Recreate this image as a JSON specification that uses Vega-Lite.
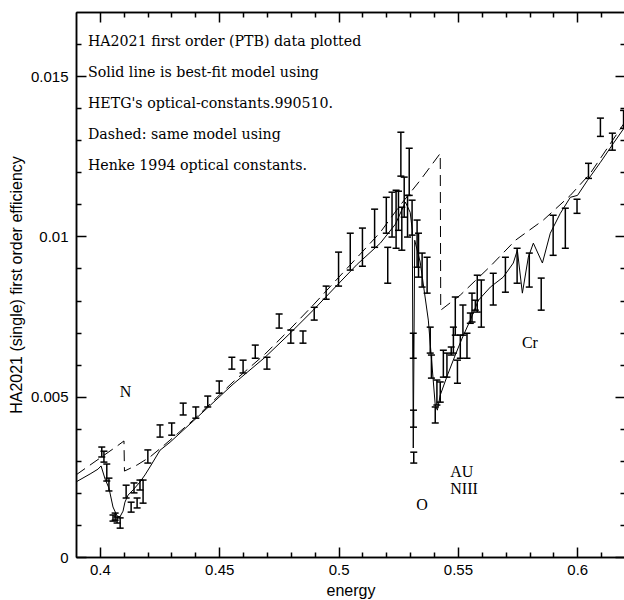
{
  "$schema": "https://vega.github.io/schema/vega-lite/v6.json",
  "autosize": {"type": "none"},
  "padding": {"left": 76, "top": 12, "right": 0, "bottom": 43},
  "width": 549,
  "height": 545,
  "data": {"values": [
    {"e": 0.4008, "lo": 0.00312, "hi": 0.00343}, {"e": 0.4017, "lo": 0.00296, "hi": 0.0033},
    {"e": 0.4029, "lo": 0.00237, "hi": 0.0029}, {"e": 0.4038, "lo": 0.00206, "hi": 0.00246},
    {"e": 0.4055, "lo": 0.00112, "hi": 0.00131}, {"e": 0.4064, "lo": 0.00115, "hi": 0.00137},
    {"e": 0.4072, "lo": 0.00106, "hi": 0.00125}, {"e": 0.4085, "lo": 0.0009, "hi": 0.00122},
    {"e": 0.411, "lo": 0.00184, "hi": 0.00224}, {"e": 0.4131, "lo": 0.0014, "hi": 0.00171},
    {"e": 0.4143, "lo": 0.002, "hi": 0.00231}, {"e": 0.4156, "lo": 0.00153, "hi": 0.00184},
    {"e": 0.4168, "lo": 0.00209, "hi": 0.0024}, {"e": 0.4181, "lo": 0.00168, "hi": 0.0024},
    {"e": 0.4201, "lo": 0.00293, "hi": 0.00334}, {"e": 0.4252, "lo": 0.00374, "hi": 0.00412},
    {"e": 0.4301, "lo": 0.0038, "hi": 0.00418}, {"e": 0.4349, "lo": 0.00443, "hi": 0.0048},
    {"e": 0.4402, "lo": 0.00433, "hi": 0.00468}, {"e": 0.4452, "lo": 0.00468, "hi": 0.00502},
    {"e": 0.45, "lo": 0.00511, "hi": 0.00549}, {"e": 0.4553, "lo": 0.00586, "hi": 0.00623},
    {"e": 0.46, "lo": 0.00574, "hi": 0.00614}, {"e": 0.4651, "lo": 0.0062, "hi": 0.00661},
    {"e": 0.47, "lo": 0.00586, "hi": 0.00623}, {"e": 0.4751, "lo": 0.00714, "hi": 0.00758},
    {"e": 0.48, "lo": 0.00667, "hi": 0.00708}, {"e": 0.4851, "lo": 0.00667, "hi": 0.00705},
    {"e": 0.4898, "lo": 0.00739, "hi": 0.00779}, {"e": 0.4948, "lo": 0.00804, "hi": 0.00845},
    {"e": 0.5, "lo": 0.00845, "hi": 0.00951}, {"e": 0.5049, "lo": 0.00895, "hi": 0.0101},
    {"e": 0.51, "lo": 0.00907, "hi": 0.01026}, {"e": 0.5151, "lo": 0.00966, "hi": 0.01085},
    {"e": 0.52, "lo": 0.0101, "hi": 0.01122}, {"e": 0.5206, "lo": 0.00854, "hi": 0.00966},
    {"e": 0.5224, "lo": 0.00998, "hi": 0.01138}, {"e": 0.5241, "lo": 0.00963, "hi": 0.01144},
    {"e": 0.5251, "lo": 0.01019, "hi": 0.01141}, {"e": 0.5261, "lo": 0.01188, "hi": 0.01325},
    {"e": 0.5265, "lo": 0.00957, "hi": 0.01091}, {"e": 0.5275, "lo": 0.0106, "hi": 0.01185},
    {"e": 0.5289, "lo": 0.00998, "hi": 0.01128}, {"e": 0.5296, "lo": 0.01128, "hi": 0.01275},
    {"e": 0.5308, "lo": 0.01004, "hi": 0.01113}, {"e": 0.5313, "lo": 0.0062, "hi": 0.00698},
    {"e": 0.5314, "lo": 0.00405, "hi": 0.00458}, {"e": 0.5315, "lo": 0.00293, "hi": 0.00327},
    {"e": 0.5329, "lo": 0.00904, "hi": 0.01051}, {"e": 0.5335, "lo": 0.00873, "hi": 0.0101},
    {"e": 0.535, "lo": 0.00842, "hi": 0.00948}, {"e": 0.5371, "lo": 0.00823, "hi": 0.00935},
    {"e": 0.5384, "lo": 0.00636, "hi": 0.00717}, {"e": 0.5389, "lo": 0.00558, "hi": 0.0063},
    {"e": 0.5405, "lo": 0.00418, "hi": 0.00468}, {"e": 0.5412, "lo": 0.00474, "hi": 0.00552},
    {"e": 0.5426, "lo": 0.00483, "hi": 0.00546}, {"e": 0.5439, "lo": 0.00561, "hi": 0.00645},
    {"e": 0.5454, "lo": 0.00561, "hi": 0.00636}, {"e": 0.5472, "lo": 0.0063, "hi": 0.00655},
    {"e": 0.5481, "lo": 0.00636, "hi": 0.00717}, {"e": 0.5489, "lo": 0.00692, "hi": 0.00811},
    {"e": 0.5498, "lo": 0.00542, "hi": 0.00614}, {"e": 0.551, "lo": 0.0062, "hi": 0.00692},
    {"e": 0.5521, "lo": 0.00692, "hi": 0.00786}, {"e": 0.5538, "lo": 0.0062, "hi": 0.00698},
    {"e": 0.5552, "lo": 0.00729, "hi": 0.00761}, {"e": 0.5559, "lo": 0.00733, "hi": 0.00823},
    {"e": 0.5573, "lo": 0.0077, "hi": 0.00801}, {"e": 0.5581, "lo": 0.00764, "hi": 0.00879},
    {"e": 0.5598, "lo": 0.00717, "hi": 0.00864}, {"e": 0.5648, "lo": 0.00786, "hi": 0.00885},
    {"e": 0.5699, "lo": 0.00826, "hi": 0.00935}, {"e": 0.5748, "lo": 0.00854, "hi": 0.00963},
    {"e": 0.5799, "lo": 0.00842, "hi": 0.00948}, {"e": 0.5849, "lo": 0.0077, "hi": 0.0087},
    {"e": 0.5899, "lo": 0.00941, "hi": 0.01066}, {"e": 0.595, "lo": 0.00963, "hi": 0.01088},
    {"e": 0.5999, "lo": 0.01072, "hi": 0.01116}, {"e": 0.6047, "lo": 0.01181, "hi": 0.01228},
    {"e": 0.6097, "lo": 0.01312, "hi": 0.01369}, {"e": 0.6147, "lo": 0.01269, "hi": 0.01322},
    {"e": 0.6194, "lo": 0.01337, "hi": 0.01393}
  ]},
  "resolve": {"axis": {"x": "independent", "y": "independent"}},
  "layer": [
    {
      "mark": {"type": "rule", "color": "black", "strokeWidth": 1.5},
      "encoding": {
        "x": {
          "field": "e", "type": "quantitative",
          "scale": {"domain": [0.39, 0.62], "nice": false, "zero": false},
          "axis": {"orient": "bottom", "values": [0.4, 0.45, 0.5, 0.55, 0.6], "format": "~g",
                   "gridOpacity": 0, "domainColor": "black", "domainWidth": 1.5,
                   "tickSize": -10, "tickColor": "black", "tickWidth": 1.5,
                   "labelPadding": 15, "labelFont": "Liberation Sans", "labelFontSize": 15, "labelColor": "black",
                   "title": "energy", "titlePadding": 5, "titleFont": "Liberation Sans", "titleFontSize": 16,
                   "titleFontWeight": "normal", "titleColor": "black"}
        },
        "y": {
          "field": "lo", "type": "quantitative",
          "scale": {"domain": [0, 0.017], "nice": false, "zero": false},
          "axis": {"orient": "left", "values": [0, 0.005, 0.01, 0.015], "format": "~g",
                   "gridOpacity": 0, "domainColor": "black", "domainWidth": 1.5,
                   "tickSize": -10, "tickColor": "black", "tickWidth": 1.5,
                   "labelPadding": 18, "labelFont": "Liberation Sans", "labelFontSize": 15, "labelColor": "black",
                   "title": "HA2021 (single) first order efficiency", "titlePadding": 6,
                   "titleFont": "Liberation Sans", "titleFontSize": 16, "titleFontWeight": "normal", "titleColor": "black"}
        },
        "y2": {"field": "hi"}
      }
    },
    {
      "mark": {"type": "tick", "orient": "horizontal", "size": 7, "thickness": 1.5, "color": "black", "opacity": 1},
      "encoding": {
        "x": {"field": "e", "type": "quantitative",
              "axis": {"orient": "bottom", "values": [0.41, 0.42, 0.43, 0.44, 0.46, 0.47, 0.48, 0.49, 0.51, 0.52, 0.53, 0.54, 0.56, 0.57, 0.58, 0.59, 0.61],
                       "gridOpacity": 0, "domainColor": "black", "domainWidth": 1.5,
                       "tickSize": -5, "tickColor": "black", "tickWidth": 1.5, "labels": false, "title": null}},
        "y": {"field": "lo", "type": "quantitative",
              "axis": {"orient": "left", "values": [0.001, 0.002, 0.003, 0.004, 0.006, 0.007, 0.008, 0.009, 0.011, 0.012, 0.013, 0.014, 0.016],
                       "gridOpacity": 0, "domainColor": "black", "domainWidth": 1.5,
                       "tickSize": -5, "tickColor": "black", "tickWidth": 1.5, "labels": false, "title": null}}
      }
    },
    {
      "mark": {"type": "tick", "orient": "horizontal", "size": 7, "thickness": 1.5, "color": "black", "opacity": 1},
      "encoding": {
        "x": {"field": "e", "type": "quantitative",
              "axis": {"orient": "top", "values": [0.4, 0.45, 0.5, 0.55, 0.6],
                       "gridOpacity": 0, "domainColor": "black", "domainWidth": 1.5,
                       "tickSize": -10, "tickColor": "black", "tickWidth": 1.5, "labels": false, "title": null}},
        "y": {"field": "hi", "type": "quantitative",
              "axis": {"orient": "right", "values": [0, 0.005, 0.01, 0.015],
                       "gridOpacity": 0, "domainColor": "black", "domainWidth": 1.5,
                       "tickSize": -10, "tickColor": "black", "tickWidth": 1.5, "labels": false, "title": null}}
      }
    },
    {
      "data": {"values": [
        {"e": 0.39, "v": 0.00234}, {"e": 0.3959, "v": 0.00259}, {"e": 0.3992, "v": 0.00274},
        {"e": 0.4005, "v": 0.00284}, {"e": 0.4022, "v": 0.00243}, {"e": 0.4038, "v": 0.00215},
        {"e": 0.4055, "v": 0.00156}, {"e": 0.4072, "v": 0.00128}, {"e": 0.4084, "v": 0.00125},
        {"e": 0.4097, "v": 0.00143}, {"e": 0.4105, "v": 0.00171}, {"e": 0.4118, "v": 0.00193},
        {"e": 0.4139, "v": 0.00209}, {"e": 0.4168, "v": 0.00234}, {"e": 0.4189, "v": 0.00256},
        {"e": 0.421, "v": 0.00281}, {"e": 0.4252, "v": 0.00333}, {"e": 0.4294, "v": 0.00358},
        {"e": 0.4391, "v": 0.00424}, {"e": 0.4558, "v": 0.00539}, {"e": 0.4692, "v": 0.00623},
        {"e": 0.4797, "v": 0.00698}, {"e": 0.4894, "v": 0.0077}, {"e": 0.4994, "v": 0.00848},
        {"e": 0.5078, "v": 0.00913}, {"e": 0.5175, "v": 0.00979}, {"e": 0.5238, "v": 0.01038},
        {"e": 0.528, "v": 0.01107}, {"e": 0.53, "v": 0.01075}, {"e": 0.5309, "v": 0.01019},
        {"e": 0.5313, "v": 0.0034}, {"e": 0.5319, "v": 0.00988}, {"e": 0.5342, "v": 0.0092},
        {"e": 0.5376, "v": 0.00739}, {"e": 0.5405, "v": 0.00474}, {"e": 0.5414, "v": 0.00458},
        {"e": 0.5426, "v": 0.00505}, {"e": 0.5456, "v": 0.00567}, {"e": 0.5489, "v": 0.0063},
        {"e": 0.5518, "v": 0.00683}, {"e": 0.5552, "v": 0.00739}, {"e": 0.5586, "v": 0.00801},
        {"e": 0.5636, "v": 0.00842}, {"e": 0.569, "v": 0.00873}, {"e": 0.5732, "v": 0.00917},
        {"e": 0.5749, "v": 0.00957}, {"e": 0.577, "v": 0.00823}, {"e": 0.5795, "v": 0.00935},
        {"e": 0.5816, "v": 0.00979}, {"e": 0.5854, "v": 0.00917}, {"e": 0.5887, "v": 0.0101},
        {"e": 0.5929, "v": 0.01072}, {"e": 0.5971, "v": 0.01122}, {"e": 0.6001, "v": 0.01128},
        {"e": 0.6043, "v": 0.01175}, {"e": 0.6097, "v": 0.01231}, {"e": 0.6152, "v": 0.01291},
        {"e": 0.6198, "v": 0.0134}
      ]},
      "mark": {"type": "line", "color": "black", "strokeWidth": 1},
      "encoding": {
        "x": {"field": "e", "type": "quantitative",
              "axis": {"orient": "top", "values": [0.41, 0.42, 0.43, 0.44, 0.46, 0.47, 0.48, 0.49, 0.51, 0.52, 0.53, 0.54, 0.56, 0.57, 0.58, 0.59, 0.61],
                       "gridOpacity": 0, "domainColor": "black", "domainWidth": 1.5,
                       "tickSize": -5, "tickColor": "black", "tickWidth": 1.5, "labels": false, "title": null}},
        "y": {"field": "v", "type": "quantitative",
              "axis": {"orient": "right", "values": [0.001, 0.002, 0.003, 0.004, 0.006, 0.007, 0.008, 0.009, 0.011, 0.012, 0.013, 0.014, 0.016],
                       "gridOpacity": 0, "domainColor": "black", "domainWidth": 1.5,
                       "tickSize": -5, "tickColor": "black", "tickWidth": 1.5, "labels": false, "title": null}}
      }
    },
    {
      "data": {"values": [
        {"e": 0.39, "v": 0.00256}, {"e": 0.4072, "v": 0.00346}, {"e": 0.4101, "v": 0.00362},
        {"e": 0.4103, "v": 0.00268}, {"e": 0.4156, "v": 0.00287}, {"e": 0.421, "v": 0.00312},
        {"e": 0.4265, "v": 0.00346}, {"e": 0.4391, "v": 0.00427}, {"e": 0.4558, "v": 0.00546},
        {"e": 0.4692, "v": 0.00633}, {"e": 0.4797, "v": 0.00711}, {"e": 0.4894, "v": 0.00786},
        {"e": 0.4994, "v": 0.00867}, {"e": 0.5091, "v": 0.00945}, {"e": 0.5175, "v": 0.01013},
        {"e": 0.5258, "v": 0.01097}, {"e": 0.5342, "v": 0.01175}, {"e": 0.5426, "v": 0.01259},
        {"e": 0.5428, "v": 0.0077}, {"e": 0.551, "v": 0.00817}, {"e": 0.5636, "v": 0.00907},
        {"e": 0.5741, "v": 0.00988}, {"e": 0.5858, "v": 0.01051}, {"e": 0.5971, "v": 0.01128},
        {"e": 0.6055, "v": 0.01197}, {"e": 0.6198, "v": 0.01355}
      ]},
      "mark": {"type": "line", "color": "black", "strokeWidth": 1, "strokeDash": [11, 6]},
      "encoding": {
        "x": {"field": "e", "type": "quantitative",
              "axis": {"orient": "bottom", "labels": false, "ticks": false, "domain": false, "grid": false, "title": null}},
        "y": {"field": "v", "type": "quantitative",
              "axis": {"orient": "left", "labels": false, "ticks": false, "domain": false, "grid": false, "title": null}}
      }
    },
    {
      "data": {"values": [
        {"e": 0.395, "v": 0.01605, "t": "HA2021 first order (PTB) data plotted"},
        {"e": 0.395, "v": 0.01509, "t": "Solid line is best-fit model using"},
        {"e": 0.395, "v": 0.01412, "t": "HETG's optical-constants.990510."},
        {"e": 0.395, "v": 0.01316, "t": "Dashed: same model using"},
        {"e": 0.395, "v": 0.01219, "t": "Henke 1994 optical constants."}
      ]},
      "mark": {"type": "text", "align": "left", "baseline": "middle", "font": "DejaVu Serif", "fontSize": 14.2, "color": "black"},
      "encoding": {
        "x": {"field": "e", "type": "quantitative",
              "axis": {"orient": "bottom", "labels": false, "ticks": false, "domain": false, "grid": false, "title": null}},
        "y": {"field": "v", "type": "quantitative",
              "axis": {"orient": "left", "labels": false, "ticks": false, "domain": false, "grid": false, "title": null}},
        "text": {"field": "t"}
      }
    },
    {
      "data": {"values": [
        {"e": 0.4083, "v": 0.00514, "t": "N"},
        {"e": 0.5325, "v": 0.00162, "t": "O"},
        {"e": 0.5468, "v": 0.00265, "t": "AU"},
        {"e": 0.5468, "v": 0.00212, "t": "NIII"},
        {"e": 0.5768, "v": 0.00667, "t": "Cr"}
      ]},
      "mark": {"type": "text", "align": "left", "baseline": "middle", "font": "Liberation Serif", "fontSize": 16, "color": "black"},
      "encoding": {
        "x": {"field": "e", "type": "quantitative",
              "axis": {"orient": "bottom", "labels": false, "ticks": false, "domain": false, "grid": false, "title": null}},
        "y": {"field": "v", "type": "quantitative",
              "axis": {"orient": "left", "labels": false, "ticks": false, "domain": false, "grid": false, "title": null}},
        "text": {"field": "t"}
      }
    }
  ],
  "config": {
    "view": {"stroke": null}
  }
}
